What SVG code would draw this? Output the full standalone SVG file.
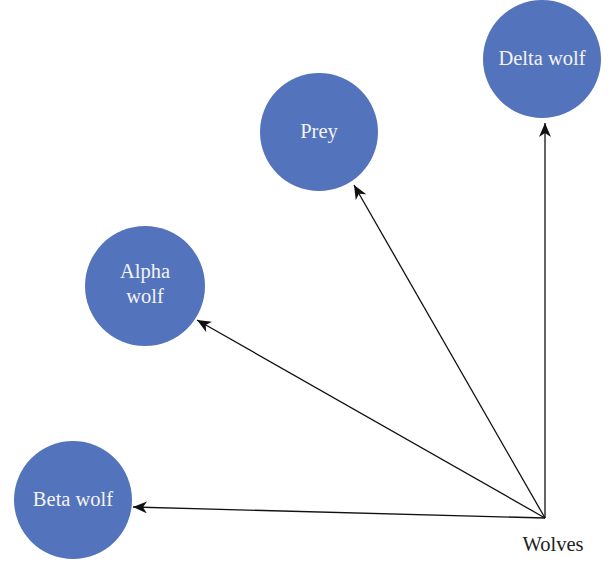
<svg xmlns="http://www.w3.org/2000/svg" width="611" height="563" viewBox="0 0 611 563">
<style>
.node{fill:#5373BD;}
.lbl{font-family:"Liberation Serif","DejaVu Serif",serif;font-size:20.5px;fill:#F4F4F4;text-anchor:middle;}
.cap{font-family:"Liberation Serif","DejaVu Serif",serif;font-size:20.5px;fill:#222;text-anchor:middle;}
.edge{stroke:#111;stroke-width:1.3;fill:none;marker-end:url(#ah);}
</style>
<defs>
<marker id="ah" viewBox="0 0 14 12" refX="14" refY="6" markerWidth="14" markerHeight="12" markerUnits="userSpaceOnUse" orient="auto">
<path d="M0,0 L14,6 L0,12 L4,6 Z" fill="#111"/>
</marker>
</defs>
<rect width="611" height="563" fill="#fff"/>
<g id="connectors">
<line class="edge" x1="545" y1="518" x2="545" y2="123"/>
<line class="edge" x1="545" y1="518" x2="354" y2="185"/>
<line class="edge" x1="545" y1="518" x2="197" y2="320"/>
<line class="edge" x1="545" y1="518" x2="133" y2="507"/>
</g>
<g id="delta"><circle class="node" cx="542" cy="59" r="59"/><text class="lbl" x="542" y="65">Delta wolf</text></g>
<g id="prey"><circle class="node" cx="319" cy="132" r="59"/><text class="lbl" x="319" y="138">Prey</text></g>
<g id="alpha"><circle class="node" cx="145" cy="286" r="60"/><text class="lbl" x="145" y="278">Alpha</text><text class="lbl" x="145" y="303">wolf</text></g>
<g id="beta"><circle class="node" cx="73" cy="500" r="59"/><text class="lbl" x="73" y="506">Beta wolf</text></g>
<g id="wolves"><text class="cap" x="553" y="551">Wolves</text></g>
</svg>
